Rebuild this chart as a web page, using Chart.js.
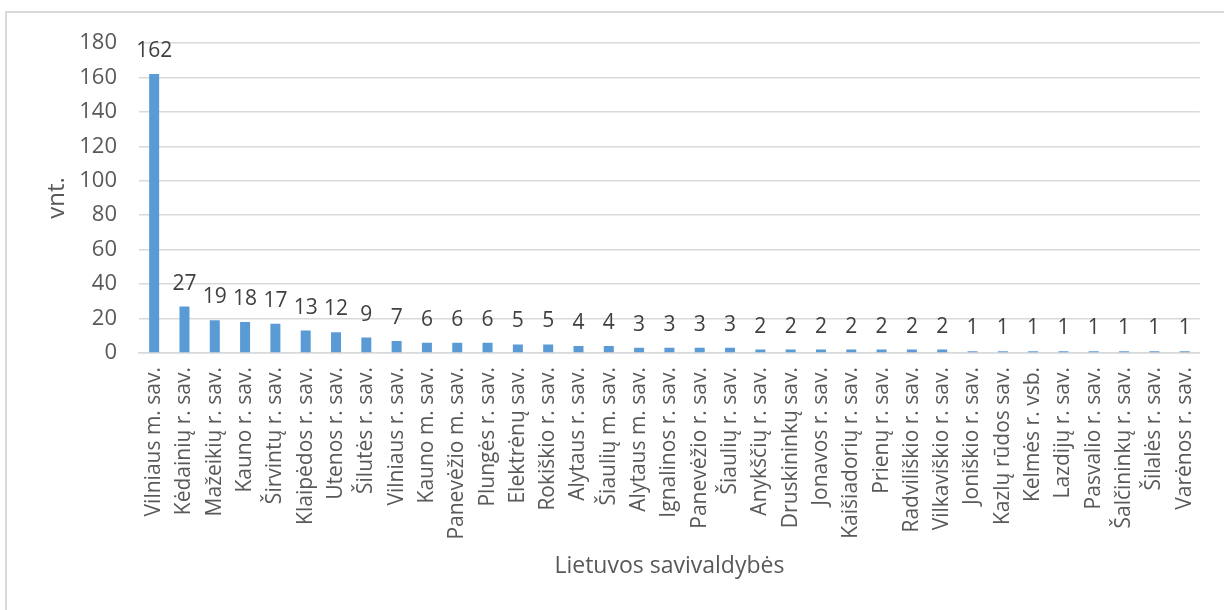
<!DOCTYPE html>
<html>
<head>
<meta charset="utf-8">
<script src="https://cdn.jsdelivr.net/npm/chart.js@4"></script>
<style>
  html, body { margin: 0; padding: 0; background: #fff; overflow: hidden; }
  #frame { position: absolute; left: 5px; top: 11px; width: 1260px; height: 640px; border: 2px solid #d9d9d9; }
  #wrap { position: absolute; left: 0; top: 0; width: 1224px; height: 610px; }
</style>
</head>
<body>
<div id="frame"></div>
<div id="wrap"><canvas id="chart"></canvas></div>
<script>
const municipalities = [
    'Vilniaus m. sav.', 'Kėdainių r. sav.', 'Mažeikių r. sav.', 'Kauno r. sav.', 'Širvintų r. sav.',
    'Klaipėdos r. sav.', 'Utenos r. sav.', 'Šilutės r. sav.', 'Vilniaus r. sav.', 'Kauno m. sav.',
    'Panevėžio m. sav.', 'Plungės r. sav.', 'Elektrėnų sav.', 'Rokiškio r. sav.', 'Alytaus r. sav.',
    'Šiaulių m. sav.', 'Alytaus m. sav.', 'Ignalinos r. sav.', 'Panevėžio r. sav.', 'Šiaulių r. sav.',
    'Anykščių r. sav.', 'Druskininkų sav.', 'Jonavos r. sav.', 'Kaišiadorių r. sav.', 'Prienų r. sav.',
    'Radviliškio r. sav.', 'Vilkaviškio r. sav.', 'Joniškio r. sav.', 'Kazlų rūdos sav.', 'Kelmės r. vsb.',
    'Lazdijų r. sav.', 'Pasvalio r. sav.', 'Šalčininkų r. sav.', 'Šilalės r. sav.', 'Varėnos r. sav.'
];
const counts = [
    162, 27, 19, 18, 17, 13, 12, 9, 7, 6,
    6, 6, 5, 5, 4, 4, 3, 3, 3, 3,
    2, 2, 2, 2, 2, 2, 2, 1, 1, 1,
    1, 1, 1, 1, 1
];
const yTicks = [0, 20, 40, 60, 80, 100, 120, 140, 160, 180];

const FONT = '"Open Sans", "Noto Sans", sans-serif';

// value labels above each bar
const valueLabels = {
    id: 'valueLabels',
    afterDatasetsDraw(chart) {
        const ctx = chart.ctx;
        const meta = chart.getDatasetMeta(0);
        ctx.save();
        ctx.font = '21px ' + FONT;
        ctx.fillStyle = '#404040';
        ctx.textAlign = 'center';
        ctx.textBaseline = 'alphabetic';
        meta.data.forEach((bar, i) => {
            ctx.fillText(String(counts[i]), bar.x, bar.y - 17);
        });
        ctx.restore();
    }
};

new Chart(document.getElementById('chart'), {
    type: 'bar',
    data: {
        labels: municipalities,
        datasets: [{
            data: counts,
            backgroundColor: '#5b9bd5',
            borderWidth: 0,
            categoryPercentage: 1,
            barPercentage: 0.33
        }]
    },
    options: {
        responsive: true,
        maintainAspectRatio: false,
        animation: false,
        layout: { padding: { left: 43, right: 9, top: 43, bottom: 30 } },
        plugins: {
            legend: { display: false },
            tooltip: { enabled: false }
        },
        scales: {
            x: {
                grid: { display: false, drawTicks: false },
                border: { color: '#d9d9d9', width: 1.5 },
                ticks: {
                    autoSkip: false,
                    maxRotation: 90,
                    minRotation: 90,
                    padding: 14,
                    color: '#595959',
                    font: { family: FONT, size: 21 }
                },
                title: {
                    display: true,
                    text: 'Lietuvos savivaldybės',
                    color: '#595959',
                    font: { family: FONT, size: 23 },
                    padding: 0
                },
                afterFit(scale) { scale.height = 610 - 30 - 353; }
            },
            y: {
                min: 0,
                max: 180,
                afterBuildTicks(scale) { scale.ticks = yTicks.map(v => ({ value: v })); },
                grid: { color: '#d9d9d9', lineWidth: 1.5, drawTicks: false },
                border: { display: false },
                ticks: {
                    padding: 22,
                    color: '#595959',
                    font: { family: FONT, size: 22 }
                },
                title: {
                    display: true,
                    text: 'vnt.',
                    color: '#595959',
                    font: { family: FONT, size: 24 },
                    padding: 0
                },
                afterFit(scale) { scale.width = 139 - 43; }
            }
        }
    },
    plugins: [valueLabels]
});
</script>
</body>
</html>
